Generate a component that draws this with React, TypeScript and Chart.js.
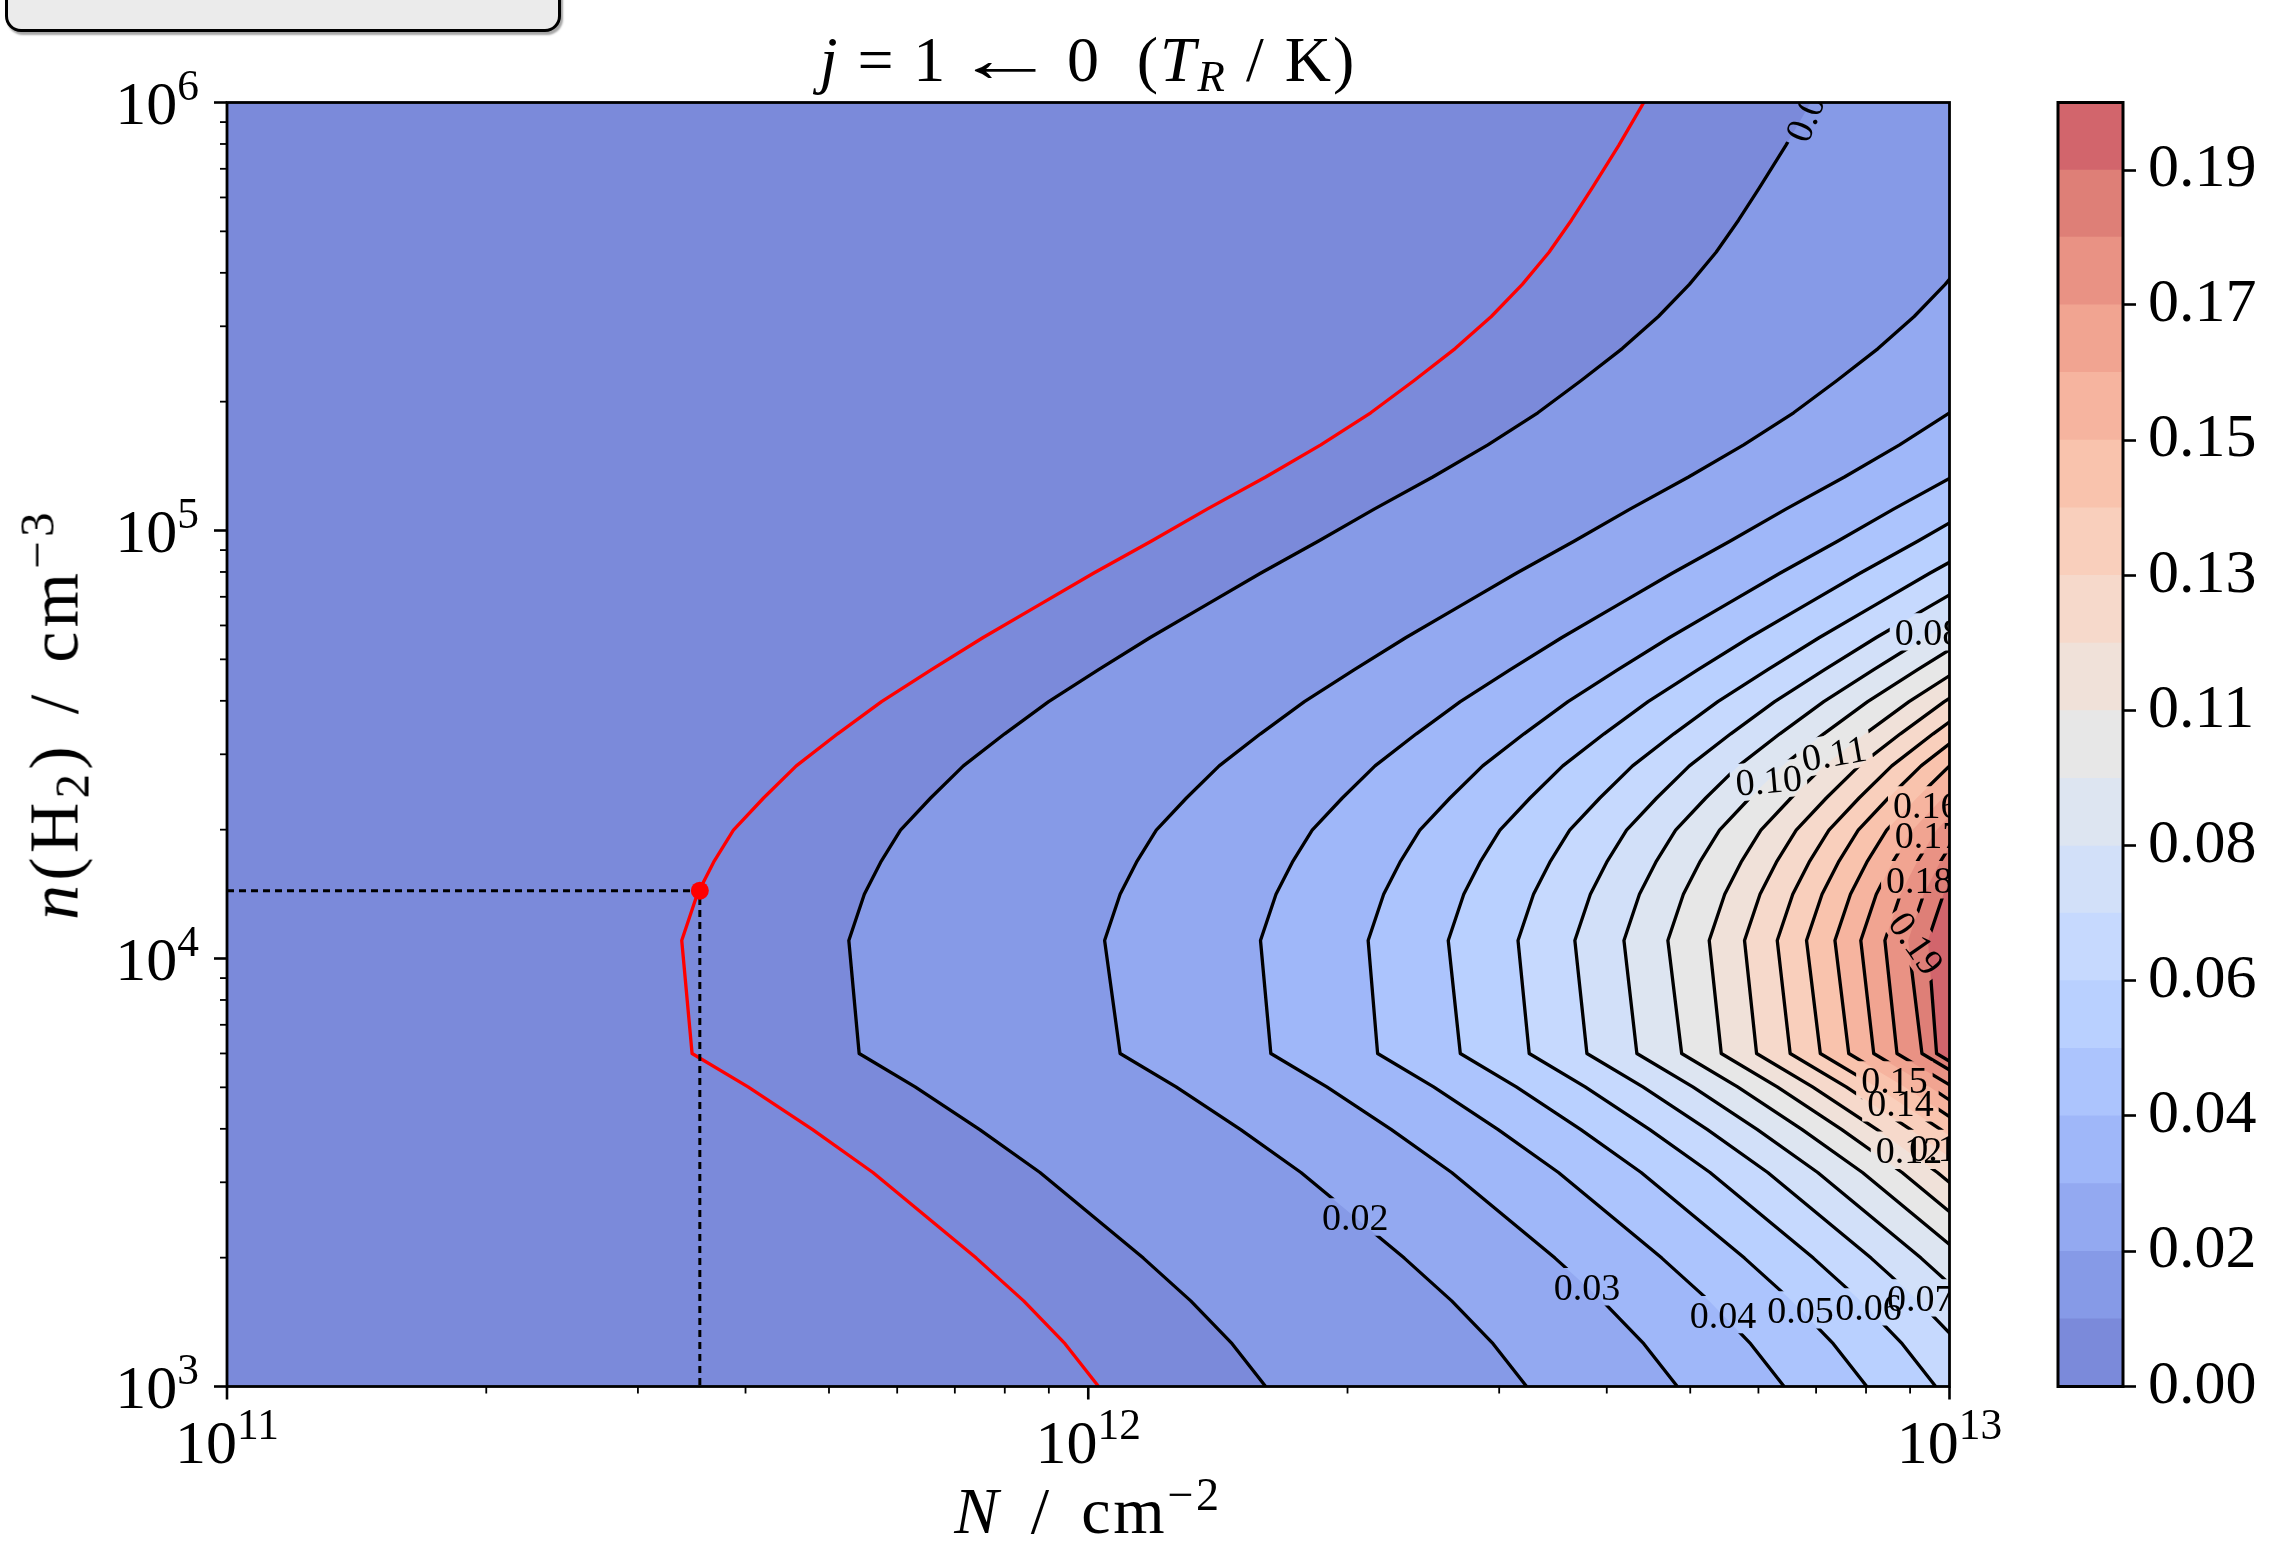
import React, { useEffect, useRef } from 'react';
import { Chart, registerables } from 'chart.js';

Chart.register(...registerables);

const SERIF = "'Liberation Serif', 'DejaVu Serif', serif";
const TICK_FONT_PX = 62;
const LABEL_FONT_PX = 38;

// Axis extents (powers of ten)
const N_EXP_RANGE = [11, 13];
const DENSITY_EXP_RANGE = [3, 6];
const N_TICK_EXPONENTS = [11, 12, 13];
const DENSITY_TICK_EXPONENTS = [3, 4, 5, 6];

// Contour levels of T_R (K)
const LEVELS = [0.0, 0.0106, 0.0212, 0.0318, 0.0424, 0.053, 0.0636, 0.0742, 0.0847, 0.0953,
  0.1059, 0.1165, 0.1271, 0.1377, 0.1483, 0.1589, 0.1695, 0.1801, 0.1906, 0.2012];
const COLORBAR_TICK_INDEX = [0, 2, 4, 6, 8, 10, 12, 14, 16, 18];

// Rows at which the contours are sampled: log10 n(H2) / cm^-3
const LOG_DENSITY = [3.0, 3.1, 3.2, 3.3, 3.4, 3.5, 3.6, 3.7, 3.778, 4.042, 4.15, 4.225, 4.3, 4.375,
  4.45, 4.525, 4.6, 4.675, 4.75, 4.825, 4.9, 4.975, 5.05, 5.125, 5.2, 5.275, 5.35, 5.425, 5.5,
  5.575, 5.65, 5.725, 5.8, 5.9, 6.0];

// log10 N / cm^-2 of each contour, one value per LOG_DENSITY row
const OBSERVED_CONTOUR = [12.012, 11.973, 11.925, 11.870, 11.810, 11.750, 11.680, 11.605, 11.540,
  11.528, 11.546, 11.565, 11.588, 11.623, 11.661, 11.709, 11.760, 11.818, 11.878, 11.942, 12.006, 12.073, 12.138, 12.206, 12.270, 12.328, 12.378, 12.426, 12.468, 12.504, 12.535, 12.561, 12.585, 12.616, 12.645];
const CONTOUR_01 = [12.206, 12.167, 12.119, 12.064, 12.004, 11.944, 11.874, 11.799, 11.734,
  11.722, 11.740, 11.759, 11.782, 11.817, 11.855, 11.903, 11.954, 12.012, 12.072, 12.136, 12.200, 12.267, 12.332, 12.400, 12.464, 12.522, 12.572, 12.620, 12.662, 12.698, 12.729, 12.755, 12.779, 12.810, 12.839];
const CONTOUR_02 = [12.509, 12.470, 12.422, 12.367, 12.307, 12.247, 12.177, 12.102, 12.037,
  12.019, 12.037, 12.056, 12.079, 12.114, 12.152, 12.200, 12.251, 12.309, 12.369, 12.433, 12.497, 12.564, 12.629, 12.697, 12.761, 12.819, 12.869, 12.917, 12.959, 12.995, 13.026, 13.052, 13.076, 13.107, 13.136];
const CONTOUR_03 = [12.684, 12.645, 12.597, 12.542, 12.482, 12.422, 12.352, 12.277, 12.212,
  12.200, 12.218, 12.237, 12.260, 12.295, 12.333, 12.381, 12.432, 12.490, 12.550, 12.614, 12.678, 12.745, 12.810, 12.878, 12.942, 13.000, 13.050, 13.098, 13.140, 13.176, 13.207, 13.233, 13.257, 13.288, 13.317];
const CONTOUR_04 = [12.808, 12.769, 12.721, 12.666, 12.606, 12.546, 12.476, 12.401, 12.336,
  12.325, 12.343, 12.362, 12.385, 12.420, 12.458, 12.506, 12.557, 12.615, 12.675, 12.739, 12.803, 12.870, 12.935, 13.003, 13.067, 13.125, 13.175, 13.223, 13.265, 13.301, 13.332, 13.358, 13.382, 13.413, 13.442];
const CONTOUR_05 = [12.904, 12.865, 12.817, 12.762, 12.702, 12.642, 12.572, 12.497, 12.432,
  12.418, 12.436, 12.455, 12.478, 12.513, 12.551, 12.599, 12.650, 12.708, 12.768, 12.832, 12.896, 12.963, 13.028, 13.096, 13.160, 13.218, 13.268, 13.316, 13.358, 13.394, 13.425, 13.451, 13.475, 13.506, 13.535];
const CONTOUR_06 = [12.984, 12.945, 12.897, 12.842, 12.782, 12.722, 12.652, 12.577, 12.512,
  12.499, 12.517, 12.536, 12.559, 12.594, 12.632, 12.680, 12.731, 12.789, 12.849, 12.913, 12.977, 13.044, 13.109, 13.177, 13.241, 13.299, 13.349, 13.397, 13.439, 13.475, 13.506, 13.532, 13.556, 13.587, 13.616];
const CONTOUR_07 = [13.051, 13.012, 12.964, 12.909, 12.849, 12.789, 12.719, 12.644, 12.579,
  12.565, 12.583, 12.602, 12.625, 12.660, 12.698, 12.746, 12.797, 12.855, 12.915, 12.979, 13.043, 13.110, 13.175, 13.243, 13.307, 13.365, 13.415, 13.463, 13.505, 13.541, 13.572, 13.598, 13.622, 13.653, 13.682];
const CONTOUR_08 = [13.109, 13.070, 13.022, 12.967, 12.907, 12.847, 12.777, 12.702, 12.637,
  12.622, 12.640, 12.659, 12.682, 12.717, 12.755, 12.803, 12.854, 12.912, 12.972, 13.036, 13.100, 13.167, 13.232, 13.300, 13.364, 13.422, 13.472, 13.520, 13.562, 13.598, 13.629, 13.655, 13.679, 13.710, 13.739];
const CONTOUR_09 = [13.161, 13.122, 13.074, 13.019, 12.959, 12.899, 12.829, 12.754, 12.689,
  12.673, 12.691, 12.710, 12.733, 12.768, 12.806, 12.854, 12.905, 12.963, 13.023, 13.087, 13.151, 13.218, 13.283, 13.351, 13.415, 13.473, 13.523, 13.571, 13.613, 13.649, 13.680, 13.706, 13.730, 13.761, 13.790];
const CONTOUR_10 = [13.207, 13.168, 13.120, 13.065, 13.005, 12.945, 12.875, 12.800, 12.735,
  12.721, 12.739, 12.758, 12.781, 12.816, 12.854, 12.902, 12.953, 13.011, 13.071, 13.135, 13.199, 13.266, 13.331, 13.399, 13.463, 13.521, 13.571, 13.619, 13.661, 13.697, 13.728, 13.754, 13.778, 13.809, 13.838];
const CONTOUR_11 = [13.248, 13.209, 13.161, 13.106, 13.046, 12.986, 12.916, 12.841, 12.776,
  12.762, 12.780, 12.799, 12.822, 12.857, 12.895, 12.943, 12.994, 13.052, 13.112, 13.176, 13.240, 13.307, 13.372, 13.440, 13.504, 13.562, 13.612, 13.660, 13.702, 13.738, 13.769, 13.795, 13.819, 13.850, 13.879];
const CONTOUR_12 = [13.287, 13.248, 13.200, 13.145, 13.085, 13.025, 12.955, 12.880, 12.815,
  12.800, 12.818, 12.837, 12.860, 12.895, 12.933, 12.981, 13.032, 13.090, 13.150, 13.214, 13.278, 13.345, 13.410, 13.478, 13.542, 13.600, 13.650, 13.698, 13.740, 13.776, 13.807, 13.833, 13.857, 13.888, 13.917];
const CONTOUR_13 = [13.322, 13.283, 13.235, 13.180, 13.120, 13.060, 12.990, 12.915, 12.850,
  12.834, 12.852, 12.871, 12.894, 12.929, 12.967, 13.015, 13.066, 13.124, 13.184, 13.248, 13.312, 13.379, 13.444, 13.512, 13.576, 13.634, 13.684, 13.732, 13.774, 13.810, 13.841, 13.867, 13.891, 13.922, 13.951];
const CONTOUR_14 = [13.355, 13.316, 13.268, 13.213, 13.153, 13.093, 13.023, 12.948, 12.883,
  12.867, 12.885, 12.904, 12.927, 12.962, 13.000, 13.048, 13.099, 13.157, 13.217, 13.281, 13.345, 13.412, 13.477, 13.545, 13.609, 13.667, 13.717, 13.765, 13.807, 13.843, 13.874, 13.900, 13.924, 13.955, 13.984];
const CONTOUR_15 = [13.384, 13.345, 13.297, 13.242, 13.182, 13.122, 13.052, 12.977, 12.912,
  12.897, 12.915, 12.934, 12.957, 12.992, 13.030, 13.078, 13.129, 13.187, 13.247, 13.311, 13.375, 13.442, 13.507, 13.575, 13.639, 13.697, 13.747, 13.795, 13.837, 13.873, 13.904, 13.930, 13.954, 13.985, 14.014];
const CONTOUR_16 = [13.411, 13.372, 13.324, 13.269, 13.209, 13.149, 13.079, 13.004, 12.939,
  12.925, 12.943, 12.962, 12.985, 13.020, 13.058, 13.106, 13.157, 13.215, 13.275, 13.339, 13.403, 13.470, 13.535, 13.603, 13.667, 13.725, 13.775, 13.823, 13.865, 13.901, 13.932, 13.958, 13.982, 14.013, 14.042];
const CONTOUR_17 = [13.440, 13.401, 13.353, 13.298, 13.238, 13.178, 13.108, 13.033, 12.968,
  12.952, 12.970, 12.989, 13.012, 13.047, 13.085, 13.133, 13.184, 13.242, 13.302, 13.366, 13.430, 13.497, 13.562, 13.630, 13.694, 13.752, 13.802, 13.850, 13.892, 13.928, 13.959, 13.985, 14.009, 14.040, 14.069];
const CONTOUR_18 = [13.457, 13.418, 13.370, 13.315, 13.255, 13.195, 13.125, 13.050, 12.985,
  12.975, 12.993, 13.012, 13.035, 13.070, 13.108, 13.156, 13.207, 13.265, 13.325, 13.389, 13.453, 13.520, 13.585, 13.653, 13.717, 13.775, 13.825, 13.873, 13.915, 13.951, 13.982, 14.008, 14.032, 14.063, 14.092];

const CONTOURS = [CONTOUR_01, CONTOUR_02, CONTOUR_03, CONTOUR_04, CONTOUR_05, CONTOUR_06,
  CONTOUR_07, CONTOUR_08, CONTOUR_09, CONTOUR_10, CONTOUR_11, CONTOUR_12, CONTOUR_13,
  CONTOUR_14, CONTOUR_15, CONTOUR_16, CONTOUR_17, CONTOUR_18];

// Best-fit column density and H2 density
const BEST_N = 3.54e11;
const BEST_DENSITY = 1.44e4;

// Inline contour labels: level index, position (log10 N, log10 n), rotation in degrees
const LABEL_LEVEL = [1, 2, 3, 4, 5, 6, 7, 8, 9, 10, 11, 12, 13, 14, 15, 16, 17, 18];
const LABEL_LOG_N = [12.836, 12.310, 12.579, 12.737, 12.827, 12.906, 12.966, 12.975, 12.790, 12.866, 12.953, 12.992, 12.943, 12.936, 12.973, 12.975, 12.965, 12.962];
const LABEL_LOG_DENSITY = [5.985, 3.396, 3.233, 3.168, 3.179, 3.186, 3.207, 4.763, 4.417, 4.480, 3.552, 3.556, 3.663, 3.716, 4.359, 4.289, 4.184, 4.036];
const LABEL_ANGLE = [-68, 0, 0, 0, 0, 0, 0, 0, -5, -10, 0, 0, 0, 0, 0, 0, 0, 55];

// coolwarm colormap, 33 evenly spaced control points
const COOLWARM = [
  [59, 76, 192], [68, 90, 204], [77, 104, 215], [87, 117, 225], [98, 130, 234], [108, 142, 241],
  [119, 154, 247], [130, 165, 251], [141, 176, 254], [152, 185, 255], [163, 194, 255],
  [174, 201, 253], [184, 208, 249], [194, 213, 244], [204, 217, 238], [213, 219, 230],
  [221, 221, 221], [229, 216, 209], [236, 211, 197], [241, 204, 185], [245, 196, 173],
  [247, 187, 160], [247, 177, 148], [247, 166, 135], [244, 154, 123], [241, 141, 111],
  [236, 127, 99], [229, 112, 88], [222, 96, 77], [213, 80, 66], [203, 62, 56], [192, 40, 47],
  [180, 4, 38],
];
const FILL_ALPHA = 0.7;

function coolwarm(t: number): number[] {
  const n = COOLWARM.length - 1;
  const s = Math.min(Math.max(t, 0), 1) * n;
  const i = Math.min(Math.floor(s), n - 1);
  const f = s - i;
  return [0, 1, 2].map((c) => COOLWARM[i][c] + (COOLWARM[i + 1][c] - COOLWARM[i][c]) * f);
}

// Colour of the band between LEVELS[k] and LEVELS[k+1], composited on white
function bandColor(k: number): string {
  const rgb = coolwarm((k + 0.5) / (LEVELS.length - 1));
  const [r, g, b] = rgb.map((v) => Math.round(v * FILL_ALPHA + 255 * (1 - FILL_ALPHA)));
  return `rgb(${r}, ${g}, ${b})`;
}

const N_MIN = 10 ** N_EXP_RANGE[0];
const N_MAX = 10 ** N_EXP_RANGE[1];
const DENSITY_MIN = 10 ** DENSITY_EXP_RANGE[0];
const DENSITY_MAX = 10 ** DENSITY_EXP_RANGE[1];

function contourPoints(logN: number[]) {
  return LOG_DENSITY.map((ly, i) => ({ x: 10 ** logN[i], y: 10 ** ly }));
}

type LabelGeom = { text: string; x: number; y: number; w: number; h: number; a: number };

function labelGeometry(chart: any): LabelGeom[] {
  const ctx = chart.ctx;
  const xs = chart.scales.x;
  const ys = chart.scales.y;
  ctx.save();
  ctx.font = `${LABEL_FONT_PX}px ${SERIF}`;
  const out = LABEL_LEVEL.map((lvl, i) => {
    const text = LEVELS[lvl].toFixed(2);
    return {
      text,
      x: xs.getPixelForValue(10 ** LABEL_LOG_N[i]),
      y: ys.getPixelForValue(10 ** LABEL_LOG_DENSITY[i]),
      w: ctx.measureText(text).width,
      h: LABEL_FONT_PX * 0.72,
      a: (LABEL_ANGLE[i] * Math.PI) / 180,
    };
  });
  ctx.restore();
  return out;
}

// "10" with a raised exponent; align is relative to x
function drawPower(ctx: CanvasRenderingContext2D, exp: number, x: number, baseline: number, align: 'center' | 'right') {
  const base = '10';
  const sup = String(exp);
  const supPx = TICK_FONT_PX * 0.7;
  ctx.font = `${TICK_FONT_PX}px ${SERIF}`;
  const wb = ctx.measureText(base).width;
  ctx.font = `${supPx}px ${SERIF}`;
  const ws = ctx.measureText(sup).width;
  const total = wb + ws;
  const x0 = align === 'center' ? x - total / 2 : x - total;
  ctx.textAlign = 'left';
  ctx.textBaseline = 'alphabetic';
  ctx.font = `${TICK_FONT_PX}px ${SERIF}`;
  ctx.fillText(base, x0, baseline);
  ctx.font = `${supPx}px ${SERIF}`;
  ctx.fillText(sup, x0 + wb, baseline - TICK_FONT_PX * 0.38);
}

function makeContourPlugin(lineStart: number, lineEnd: number) {
  return {
    id: 'contourDecor',
    beforeDatasetDraw(chart: any, args: any) {
      if (args.index < lineStart || args.index >= lineEnd) return;
      const ctx = chart.ctx as CanvasRenderingContext2D;
      ctx.save();
      // break the contour lines underneath each inline label
      for (const L of labelGeometry(chart)) {
        const hw = L.w / 2 + 5;
        const hh = L.h / 2 + 5;
        const c = Math.cos(L.a);
        const s = Math.sin(L.a);
        const pts = [[-hw, -hh], [hw, -hh], [hw, hh], [-hw, hh]].map(([u, v]) => [L.x + u * c - v * s, L.y + u * s + v * c]);
        ctx.beginPath();
        ctx.rect(0, 0, chart.width, chart.height);
        ctx.moveTo(pts[0][0], pts[0][1]);
        for (let i = 1; i < 4; i++) ctx.lineTo(pts[i][0], pts[i][1]);
        ctx.closePath();
        ctx.clip('evenodd');
      }
    },
    afterDatasetDraw(chart: any, args: any) {
      if (args.index < lineStart || args.index >= lineEnd) return;
      chart.ctx.restore();
    },
    afterDatasetsDraw(chart: any) {
      const ctx = chart.ctx as CanvasRenderingContext2D;
      const { left, right, top, bottom } = chart.chartArea;
      ctx.save();
      ctx.beginPath();
      ctx.rect(left, top, right - left, bottom - top);
      ctx.clip();
      ctx.fillStyle = '#000';
      ctx.font = `${LABEL_FONT_PX}px ${SERIF}`;
      ctx.textAlign = 'center';
      ctx.textBaseline = 'alphabetic';
      for (const L of labelGeometry(chart)) {
        ctx.save();
        ctx.translate(L.x, L.y);
        ctx.rotate(L.a);
        ctx.fillText(L.text, 0, LABEL_FONT_PX * 0.34);
        ctx.restore();
      }
      ctx.restore();
    },
    afterDraw(chart: any) {
      const ctx = chart.ctx as CanvasRenderingContext2D;
      const xs = chart.scales.x;
      const ys = chart.scales.y;
      const { left, right, top, bottom } = chart.chartArea;
      ctx.save();
      ctx.strokeStyle = '#000';
      ctx.fillStyle = '#000';
      // log ticks, pointing outwards
      for (let e = N_EXP_RANGE[0]; e <= N_EXP_RANGE[1]; e++) {
        for (let m = 1; m <= 9; m++) {
          const v = m * 10 ** e;
          if (v > N_MAX * 1.0001) break;
          const px = xs.getPixelForValue(v);
          ctx.lineWidth = m === 1 ? 2.6 : 1.8;
          ctx.beginPath();
          ctx.moveTo(px, bottom);
          ctx.lineTo(px, bottom + (m === 1 ? 13 : 7));
          ctx.stroke();
        }
      }
      for (let e = DENSITY_EXP_RANGE[0]; e <= DENSITY_EXP_RANGE[1]; e++) {
        for (let m = 1; m <= 9; m++) {
          const v = m * 10 ** e;
          if (v > DENSITY_MAX * 1.0001) break;
          const py = ys.getPixelForValue(v);
          ctx.lineWidth = m === 1 ? 2.6 : 1.8;
          ctx.beginPath();
          ctx.moveTo(left, py);
          ctx.lineTo(left - (m === 1 ? 13 : 7), py);
          ctx.stroke();
        }
      }
      ctx.lineWidth = 2.8;
      ctx.strokeRect(left, top, right - left, bottom - top);
      for (const e of N_TICK_EXPONENTS) drawPower(ctx, e, xs.getPixelForValue(10 ** e), bottom + 76, 'center');
      for (const e of DENSITY_TICK_EXPONENTS) {
        drawPower(ctx, e, left - 28, ys.getPixelForValue(10 ** e) + TICK_FONT_PX * 0.34, 'right');
      }
      ctx.restore();
    },
  };
}

const outlinePlugin = {
  id: 'colorbarOutline',
  afterDraw(chart: any) {
    const ctx = chart.ctx as CanvasRenderingContext2D;
    const { left, right, top, bottom } = chart.chartArea;
    ctx.save();
    ctx.strokeStyle = '#000';
    ctx.lineWidth = 3;
    ctx.strokeRect(left, top, right - left, bottom - top);
    ctx.restore();
  },
};

const subStyle: React.CSSProperties = { fontSize: '0.7em', position: 'relative', top: '0.22em' };
const supStyle: React.CSSProperties = { fontSize: '0.7em', position: 'relative', top: '-0.5em' };
const textBase: React.CSSProperties = {
  position: 'absolute',
  fontFamily: SERIF,
  whiteSpace: 'nowrap',
  color: '#000',
};

function Op({ children, gap }: { children: React.ReactNode; gap: number }) {
  return <span style={{ margin: `0 ${gap}em` }}>{children}</span>;
}

export default function App() {
  const mainRef = useRef<HTMLCanvasElement>(null);
  const barRef = useRef<HTMLCanvasElement>(null);

  useEffect(() => {
    if (!mainRef.current || !barRef.current) return;

    const datasets: any[] = [];
    // lowest band fills the whole axes box
    datasets.push({
      data: [
        { x: N_MIN, y: DENSITY_MIN }, { x: N_MIN, y: DENSITY_MAX },
        { x: N_MAX, y: DENSITY_MAX }, { x: N_MAX, y: DENSITY_MIN },
      ],
      fill: 'shape', backgroundColor: bandColor(0), borderWidth: 0, borderColor: 'transparent',
      pointRadius: 0, order: 100,
    });
    // filled region above each level: contour closed around the high-N side
    CONTOURS.forEach((c, i) => {
      const k = i + 1;
      datasets.push({
        data: [...contourPoints(c), { x: N_MAX * 100, y: DENSITY_MAX }, { x: N_MAX * 100, y: DENSITY_MIN }],
        fill: 'shape', backgroundColor: bandColor(k), borderWidth: 0, borderColor: 'transparent',
        pointRadius: 0, order: 100 - k,
      });
    });
    const lineStart = datasets.length;
    CONTOURS.forEach((c) => {
      datasets.push({
        data: contourPoints(c), fill: false, borderColor: '#000', borderWidth: 3.3,
        borderJoinStyle: 'round', pointRadius: 0, order: 20,
      });
    });
    const lineEnd = datasets.length;
    datasets.push({
      data: contourPoints(OBSERVED_CONTOUR), fill: false, borderColor: '#ff0000', borderWidth: 3.3,
      borderJoinStyle: 'round', pointRadius: 0, order: 10,
    });
    datasets.push({
      data: [{ x: N_MIN, y: BEST_DENSITY }, { x: BEST_N, y: BEST_DENSITY }, { x: BEST_N, y: DENSITY_MIN }],
      fill: false, borderColor: '#000', borderWidth: 3, borderDash: [7, 5], pointRadius: 0, order: 5,
    });
    datasets.push({
      data: [{ x: BEST_N, y: BEST_DENSITY }], showLine: false, pointRadius: 9,
      pointBackgroundColor: '#ff0000', pointBorderWidth: 0, pointBorderColor: '#ff0000', order: 1,
    });

    const main = new Chart(mainRef.current, {
      type: 'line',
      data: { datasets },
      options: {
        responsive: false,
        animation: false,
        devicePixelRatio: 1,
        events: [],
        layout: { padding: { left: 227, right: 324.5, top: 102.5, bottom: 163.5 } },
        plugins: { legend: { display: false }, tooltip: { enabled: false } },
        elements: { line: { tension: 0 } },
        scales: {
          x: { type: 'logarithmic', min: N_MIN, max: N_MAX, display: false },
          y: { type: 'logarithmic', min: DENSITY_MIN, max: DENSITY_MAX, display: false },
        },
      } as any,
      plugins: [makeContourPlugin(lineStart, lineEnd)],
    });

    const bar = new Chart(barRef.current, {
      type: 'bar',
      data: {
        labels: [''],
        datasets: LEVELS.slice(0, -1).map((lo, k) => ({
          data: [[lo, LEVELS[k + 1]]],
          backgroundColor: bandColor(k),
          borderWidth: 0,
          grouped: false,
          barPercentage: 1,
          categoryPercentage: 1,
        })),
      } as any,
      options: {
        responsive: false,
        animation: false,
        devicePixelRatio: 1,
        events: [],
        layout: { padding: { left: 18, right: 0, top: 102.5, bottom: 163.5 } },
        plugins: { legend: { display: false }, tooltip: { enabled: false } },
        scales: {
          x: { display: false },
          y: {
            position: 'right',
            min: LEVELS[0],
            max: LEVELS[LEVELS.length - 1],
            afterBuildTicks: (s: any) => {
              s.ticks = COLORBAR_TICK_INDEX.map((k) => ({ value: LEVELS[k] }));
            },
            afterFit: (s: any) => {
              s.width = 151;
            },
            ticks: {
              autoSkip: false,
              padding: 12,
              color: '#000',
              font: { family: SERIF, size: TICK_FONT_PX },
              callback: (v: any) => Number(v).toFixed(2),
            },
            grid: { drawOnChartArea: false, tickLength: 13, tickWidth: 2.6, tickColor: '#000' },
            border: { display: false },
          },
        },
      } as any,
      plugins: [outlinePlugin],
    });

    return () => {
      main.destroy();
      bar.destroy();
    };
  }, []);

  return (
    <div style={{ position: 'absolute', left: 0, top: 0, width: 2274, height: 1550, overflow: 'hidden', background: '#fff' }}>
      <div
        style={{
          position: 'absolute', left: 5, top: -58, width: 556, height: 90, boxSizing: 'border-box',
          border: '3px solid #000', borderRadius: 16, background: '#ebebeb',
          boxShadow: '2px 3px 2px rgba(0,0,0,0.35)',
        }}
      />
      <canvas ref={mainRef} width={2274} height={1550} style={{ position: 'absolute', left: 0, top: 0 }} />
      <canvas ref={barRef} width={234} height={1550} style={{ position: 'absolute', left: 2040, top: 0 }} />
      <div style={{ ...textBase, fontSize: 64, lineHeight: '64px', letterSpacing: '0.03em', left: 1088, top: 28, transform: 'translateX(-50%)' }}>
        <i>j</i><Op gap={0.28}>=</Op>1
        <span style={{ display: 'inline-block', transform: 'scaleX(1.6)', margin: '0 0.42em' }}>←</span>
        0&nbsp;&nbsp;(<i>T</i><span style={subStyle}><i>R</i></span><Op gap={0.3}>/</Op>K)
      </div>
      <div style={{ ...textBase, fontSize: 66, lineHeight: '66px', letterSpacing: '0.04em', left: 1088, top: 1478, transform: 'translateX(-50%)' }}>
        <i>N</i><Op gap={0.45}>/</Op>cm<span style={supStyle}>−2</span>
      </div>
      <div style={{ ...textBase, fontSize: 70, lineHeight: '70px', letterSpacing: '0.06em', left: 58, top: 714, transform: 'translate(-50%, -50%) rotate(-90deg)' }}>
        <i>n</i>(H<span style={subStyle}>2</span>)<Op gap={0.4}>/</Op>cm<span style={supStyle}>−3</span>
      </div>
    </div>
  );
}
